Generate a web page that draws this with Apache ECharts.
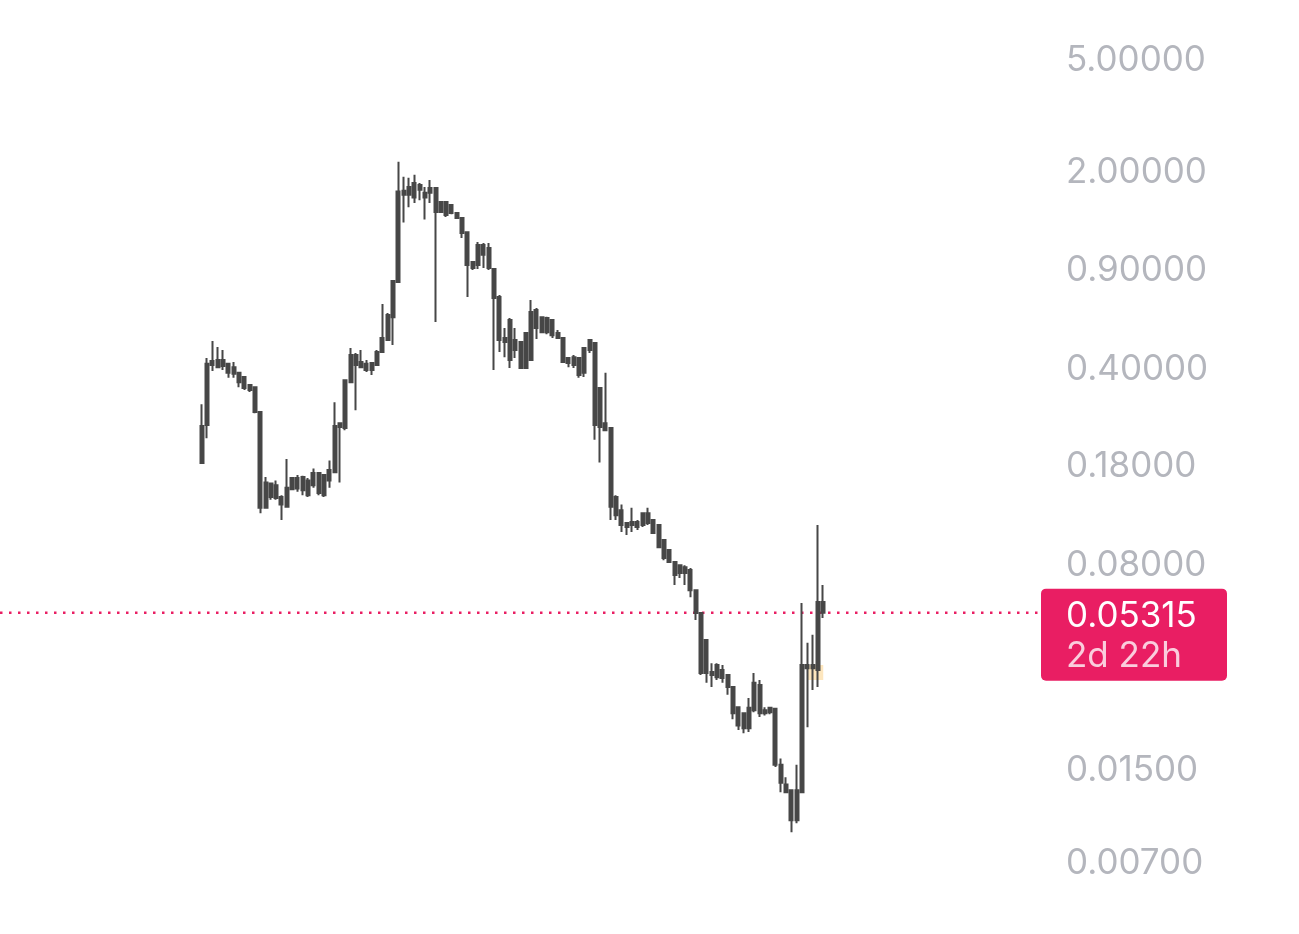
<!DOCTYPE html>
<html>
<head>
<meta charset="utf-8">
<title>Candles</title>
<script src="https://cdn.jsdelivr.net/npm/echarts@6/dist/echarts.min.js"></script>
<style>
html, body { margin: 0; padding: 0; background: #fff; }
#main { width: 1299px; height: 934px; }
</style>
</head>
<body>
<div id="main"></div>
<script>
// one row per candle: [open, close, low, high]
const candles = [
  [0.181, 0.245, 0.181, 0.293], [0.247, 0.408, 0.222, 0.428], [0.404, 0.418, 0.385, 0.492],
  [0.397, 0.421, 0.397, 0.468], [0.401, 0.421, 0.388, 0.457], [0.379, 0.408, 0.364, 0.411],
  [0.376, 0.397, 0.364, 0.414], [0.351, 0.379, 0.337, 0.382], [0.335, 0.366, 0.329, 0.369],
  [0.329, 0.343, 0.324, 0.346], [0.275, 0.337, 0.272, 0.337], [0.1255, 0.275, 0.120, 0.275],
  [0.1255, 0.1545, 0.1255, 0.1615], [0.137, 0.153, 0.134, 0.153], [0.136, 0.151, 0.134, 0.157],
  [0.129, 0.137, 0.1135, 0.139], [0.1265, 0.148, 0.1255, 0.187], [0.146, 0.160, 0.145, 0.160],
  [0.147, 0.160, 0.143, 0.164], [0.145, 0.1615, 0.139, 0.163], [0.139, 0.157, 0.137, 0.160],
  [0.151, 0.167, 0.148, 0.173], [0.1415, 0.167, 0.139, 0.167], [0.139, 0.164, 0.137, 0.1655],
  [0.157, 0.171, 0.148, 0.185], [0.168, 0.245, 0.168, 0.298], [0.243, 0.251, 0.1545, 0.253],
  [0.241, 0.357, 0.237, 0.357], [0.351, 0.439, 0.351, 0.465], [0.404, 0.439, 0.279, 0.446],
  [0.397, 0.414, 0.3945, 0.457], [0.388, 0.408, 0.382, 0.421], [0.388, 0.411, 0.3725, 0.411],
  [0.404, 0.450, 0.401, 0.457], [0.450, 0.504, 0.450, 0.666], [0.496, 0.609, 0.496, 0.619],
  [0.598, 0.804, 0.476, 0.804], [0.797, 1.673, 0.797, 2.135], [1.632, 1.686, 1.298, 1.888],
  [1.632, 1.737, 1.473, 1.874], [1.593, 1.796, 1.523, 1.92], [1.70, 1.766, 1.56, 1.796],
  [1.593, 1.659, 1.33, 1.737], [1.659, 1.724, 1.523, 1.84], [1.417, 1.724, 0.575, 1.737],
  [1.417, 1.535, 1.405, 1.535], [1.382, 1.535, 1.359, 1.535], [1.405, 1.498, 1.39, 1.51],
  [1.349, 1.405, 1.34, 1.41], [1.191, 1.349, 1.143, 1.359], [0.917, 1.20, 0.705, 1.20],
  [0.895, 0.940, 0.88, 0.940], [0.917, 1.08, 0.887, 1.107], [0.998, 1.08, 0.895, 1.098],
  [0.895, 1.054, 0.88, 1.098], [0.700, 0.887, 0.388, 0.887], [0.496, 0.705, 0.450, 0.717],
  [0.488, 0.504, 0.431, 0.547], [0.421, 0.584, 0.3945, 0.594], [0.457, 0.496, 0.428, 0.547],
  [0.3945, 0.488, 0.3945, 0.488], [0.3945, 0.525, 0.3945, 0.525], [0.421, 0.624, 0.421, 0.688],
  [0.547, 0.634, 0.500, 0.645], [0.529, 0.598, 0.525, 0.598], [0.529, 0.594, 0.52, 0.60],
  [0.516, 0.584, 0.504, 0.584], [0.504, 0.525, 0.500, 0.538], [0.414, 0.504, 0.411, 0.504],
  [0.411, 0.428, 0.397, 0.431], [0.404, 0.431, 0.3945, 0.439], [0.3725, 0.428, 0.364, 0.431],
  [0.379, 0.465, 0.366, 0.465], [0.457, 0.496, 0.446, 0.500], [0.247, 0.484, 0.219, 0.488],
  [0.243, 0.335, 0.182, 0.335], [0.237, 0.251, 0.237, 0.379], [0.1265, 0.241, 0.1135, 0.241],
  [0.118, 0.137, 0.1135, 0.139], [0.109, 0.123, 0.1028, 0.129], [0.1071, 0.1108, 0.1003, 0.1108],
  [0.109, 0.1117, 0.1028, 0.1255], [0.1071, 0.1117, 0.1045, 0.1135], [0.109, 0.120, 0.1071, 0.120],
  [0.1108, 0.120, 0.109, 0.1255], [0.102, 0.1135, 0.102, 0.1135], [0.0909, 0.109, 0.0902, 0.109],
  [0.0831, 0.0963, 0.0817, 0.0963], [0.0804, 0.0887, 0.0804, 0.0887], [0.0723, 0.0804, 0.0666, 0.0804],
  [0.0735, 0.0784, 0.0706, 0.0784], [0.0735, 0.0771, 0.0666, 0.0784], [0.0639, 0.0753, 0.0603, 0.0766],
  [0.0530, 0.0639, 0.0500, 0.0639], [0.0324, 0.0530, 0.0319, 0.0530], [0.0324, 0.0425, 0.0299, 0.0425],
  [0.0319, 0.0327, 0.0289, 0.0351], [0.0313, 0.0346, 0.0306, 0.0351], [0.0311, 0.0332, 0.0299, 0.0346],
  [0.0289, 0.0319, 0.0271, 0.0319], [0.0233, 0.0289, 0.0222, 0.0289], [0.0211, 0.0245, 0.0203, 0.0245],
  [0.0206, 0.0233, 0.0198, 0.0235], [0.0206, 0.0244, 0.0200, 0.0264], [0.0239, 0.0299, 0.0235, 0.0324],
  [0.0233, 0.0294, 0.0226, 0.0306], [0.0233, 0.0239, 0.0229, 0.0245], [0.0235, 0.0244, 0.0231, 0.0245],
  [0.0153, 0.0242, 0.0150, 0.0244], [0.0132, 0.0153, 0.0122, 0.0161], [0.0122, 0.0130, 0.0121, 0.0138],
  [0.0097, 0.0124, 0.0088, 0.0124], [0.0097, 0.0124, 0.00947, 0.0153], [0.0122, 0.0346, 0.0121, 0.0575],
  [0.0337, 0.0346, 0.0208, 0.0415], [0.0337, 0.0346, 0.0282, 0.0443], [0.0332, 0.058, 0.0289, 0.109],
  [0.058, 0.05315, 0.0509, 0.0666]
];
const yTicks = [0.007, 0.015, 0.08, 0.18, 0.4, 0.9, 2, 5];
const lastPrice = 0.05315;
const countdown = '2d 22h';
const leadSlots = 38;   // empty slots before first candle
const tailSlots = 41;   // empty slots after last candle

const slotCount = leadSlots + candles.length + tailSlots;
const categories = [];
const seriesData = [];
for (let i = 0; i < slotCount; i++) {
  categories.push(String(i));
  const c = candles[i - leadSlots];
  seriesData.push(c ? c : '-');
}
const lastIdx = leadSlots + candles.length - 1;

const candleColor = '#474747';
const accent = '#e91e63';
const labelFont = 'Inter, "DejaVu Sans", sans-serif';
const labelSize = 35;
const gridRight = 258;

const chart = echarts.init(document.getElementById('main'));
const option = {
  animation: false,
  backgroundColor: '#fff',
  grid: { left: 0, right: gridRight, top: 0, bottom: 0, containLabel: false },
  xAxis: {
    type: 'category',
    data: categories,
    boundaryGap: false,
    axisLine: { show: false },
    axisTick: { show: false },
    axisLabel: { show: false },
    splitLine: { show: false }
  },
  yAxis: {
    type: 'log',
    position: 'right',
    min: 0.00382,
    max: 8.04,
    axisLine: { show: false },
    axisTick: { show: false },
    splitLine: { show: false },
    axisLabel: {
      customValues: yTicks,
      margin: 25,
      // small line box aligned to the top: glyphs sit a few px below the tick
      verticalAlign: 'top',
      lineHeight: 6,
      color: '#b4b6bd',
      fontSize: labelSize,
      fontFamily: labelFont,
      formatter: function (v) { return Number(v).toFixed(5); }
    }
  },
  series: [{
    type: 'candlestick',
    data: seriesData,
    barWidth: 3.5,
    itemStyle: {
      color: candleColor,
      color0: candleColor,
      borderColor: candleColor,
      borderColor0: candleColor,
      borderWidth: 2
    },
    markArea: {
      silent: true,
      itemStyle: { color: 'rgba(250, 200, 110, 0.45)' },
      data: [[{ xAxis: String(lastIdx - 3), yAxis: 0.0306 }, { xAxis: String(lastIdx), yAxis: 0.0346 }]]
    }
  }]
};
chart.setOption(option);

// last-price line and tag, placed through the axis scale
const tagY = chart.convertToPixel({ yAxisIndex: 0 }, lastPrice);
const tagX = chart.getWidth() - gridRight;
chart.setOption({
  graphic: [
    {
      type: 'line',
      silent: true,
      shape: { x1: 0, y1: tagY, x2: tagX, y2: tagY },
      style: { stroke: accent, lineWidth: 2.5, lineDash: [2.5, 6.5] }
    },
    {
      type: 'group',
      x: tagX,
      y: tagY - 24,
      children: [
        { type: 'rect', shape: { x: 0, y: 0, width: 186, height: 92, r: 5 }, style: { fill: accent } },
        { type: 'text', x: 25, y: 28, style: { text: lastPrice.toFixed(5), fill: '#fff', font: labelSize + 'px ' + labelFont, verticalAlign: 'middle' } },
        { type: 'text', x: 25, y: 68, style: { text: countdown, fill: 'rgba(255,255,255,0.78)', font: labelSize + 'px ' + labelFont, verticalAlign: 'middle' } }
      ]
    }
  ]
});

window.addEventListener('resize', function () { chart.resize(); });
</script>
</body>
</html>
